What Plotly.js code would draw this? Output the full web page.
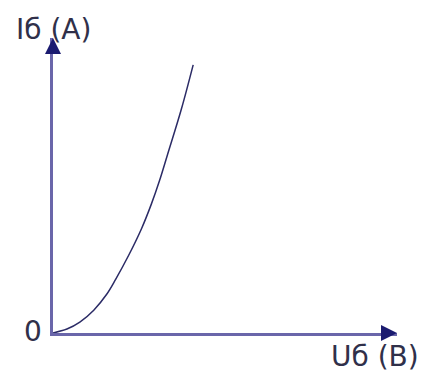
<!DOCTYPE html>
<html>
<head>
<meta charset="utf-8">
<script src="https://cdn.plot.ly/plotly-3.0.1.min.js"></script>
<style>
  html, body { margin: 0; padding: 0; background: #ffffff; }
  #chart { width: 426px; height: 385px; }
</style>
</head>
<body>
<div id="chart"></div>
<script>
// values (arbitrary units, no scale on the axes)
let uValues = [0, 14, 27, 41, 54, 63, 76, 89, 99, 107, 115, 129, 141];
let iValues = [0, 4, 11, 23, 39, 54, 78, 105, 130, 153, 179, 225, 270];
let uMax = 346;
let iMax = 297;
let xLabel = 'Uб (B)';
let yLabel = 'Iб (A)';
let originLabel = '0';

function plotCurve() {
    let axisColor = '#6a66aa';
    let headColor = '#1b1b70';
    let textColor = '#30304a';

    let data = [{
        x: uValues,
        y: iValues,
        type: 'scatter',
        mode: 'lines',
        line: { color: '#2b2b66', width: 1.5, shape: 'spline', smoothing: 1 },
        hoverinfo: 'skip'
    }];

    let axisBase = {
        showline: true,
        linecolor: axisColor,
        linewidth: 3,
        showgrid: false,
        zeroline: false,
        showticklabels: false,
        ticks: '',
        fixedrange: true
    };

    let layout = {
        width: 426,
        height: 385,
        margin: { l: 52.5, r: 29, t: 38, b: 51.5 },
        paper_bgcolor: '#ffffff',
        plot_bgcolor: '#ffffff',
        showlegend: false,
        hovermode: false,
        font: { family: 'DejaVu Sans', size: 28, color: textColor },
        xaxis: Object.assign({ range: [0, uMax] }, axisBase),
        yaxis: Object.assign({ range: [0, iMax] }, axisBase),
        annotations: [
            // arrow heads at the ends of the axes
            {
                x: 0, y: iMax, xref: 'x', yref: 'y', text: '',
                showarrow: true, ax: 0, ay: 16,
                arrowhead: 2, arrowsize: 1.6, arrowwidth: 2, arrowcolor: headColor
            },
            {
                x: uMax, y: 0, xref: 'x', yref: 'y', text: '',
                showarrow: true, ax: -16, ay: 0,
                arrowhead: 2, arrowsize: 1.6, arrowwidth: 2, arrowcolor: headColor
            },
            // axis labels
            {
                x: -0.113, y: 1.03, xref: 'paper', yref: 'paper',
                xanchor: 'left', yanchor: 'middle', text: yLabel, showarrow: false
            },
            {
                x: 0.803, y: -0.08, xref: 'paper', yref: 'paper',
                xanchor: 'left', yanchor: 'middle', text: xLabel, showarrow: false
            },
            {
                x: -0.058, y: 0.005, xref: 'paper', yref: 'paper',
                xanchor: 'center', yanchor: 'middle', text: originLabel, showarrow: false
            }
        ]
    };

    Plotly.newPlot('chart', data, layout, { displayModeBar: false, staticPlot: true });
}

plotCurve();
</script>
</body>
</html>
